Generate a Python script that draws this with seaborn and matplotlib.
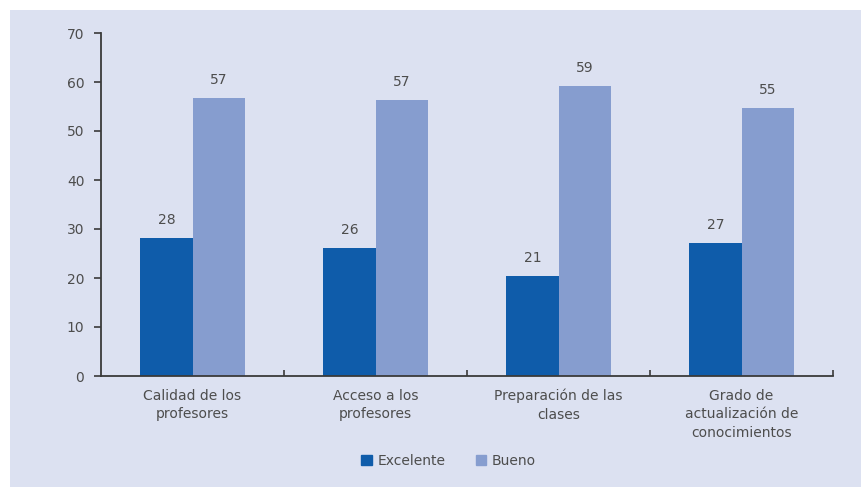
import numpy as np
import pandas as pd
import matplotlib
matplotlib.use("Agg")
import matplotlib.pyplot as plt
import seaborn as sns
from matplotlib.patches import Rectangle

categories = ["Calidad de los\nprofesores", "Acceso a los\nprofesores",
              "Preparación de las\nclases", "Grado de\nactualización de\nconocimientos"]
series = ["Excelente", "Bueno"]
excelente = [28.2, 26.2, 20.4, 27.1]
bueno = [56.8, 56.4, 59.2, 54.7]
excelente_labels = ["28", "26", "21", "27"]
bueno_labels = ["57", "57", "59", "55"]

COLORS = {"Excelente": "#0f5caa", "Bueno": "#869dcf"}
BG = "#dce1f1"
TEXT = "#4d4d4d"
AXIS = "#3a3a3a"

df = pd.DataFrame({
    "categoria": categories * 2,
    "serie": ["Excelente"] * 4 + ["Bueno"] * 4,
    "valor": excelente + bueno,
})

sns.set_style("white")
plt.rcParams["font.family"] = ["DejaVu Sans"]

fig = plt.figure(figsize=(8.61, 4.87), dpi=100, facecolor="white")
fig.patches.append(Rectangle((10 / 861, 0), 1, 1 - 10 / 487, transform=fig.transFigure,
                             facecolor=BG, edgecolor="none", zorder=-10))
ax = fig.add_axes([101 / 861, 1 - 376 / 487, 732 / 861, 343 / 487])
ax.set_facecolor(BG)

sns.barplot(data=df, x="categoria", y="valor", hue="serie", hue_order=series,
            palette=COLORS, width=0.57, saturation=1, linewidth=0, ax=ax, legend=False)

# value labels above bars
for cont, labs in zip(ax.containers, [excelente_labels, bueno_labels]):
    for bar, lab in zip(cont, labs):
        ax.annotate(lab, (bar.get_x() + bar.get_width() / 2, bar.get_height()),
                    xytext=(0, 8), textcoords="offset points", ha="center", va="bottom",
                    fontsize=10, color=TEXT)

ax.set_ylim(0, 70)
ax.set_xlim(-0.5, 3.5)
ax.set_yticks(range(0, 71, 10))
ax.set_xlabel("")
ax.set_ylabel("")
for s in ["top", "right"]:
    ax.spines[s].set_visible(False)
for s in ["left", "bottom"]:
    ax.spines[s].set_color(AXIS)
    ax.spines[s].set_linewidth(1.3)
ax.tick_params(axis="y", direction="out", length=5, width=1.2, color=AXIS,
               labelsize=10, labelcolor=TEXT, left=True, pad=7)
ax.tick_params(axis="x", which="major", length=0, labelsize=10, labelcolor=TEXT, pad=9)
for lbl in ax.get_xticklabels():
    lbl.set_linespacing(1.45)
ax.set_xticks([0.5, 1.5, 2.5, 3.5], minor=True)
ax.tick_params(axis="x", which="minor", direction="in", length=4, width=1.2,
               color=AXIS, bottom=True)

handles = [Rectangle((0, 0), 1, 1, color=COLORS[s]) for s in series]
fig.legend(handles, series, loc="center", bbox_to_anchor=(0.521, 1 - 461 / 487), ncol=2,
           frameon=False, fontsize=10, handlelength=0.75, handleheight=0.75,
           handletextpad=0.4, columnspacing=2.2, labelcolor=TEXT)

fig.savefig("out.png", dpi=100, facecolor="white")
